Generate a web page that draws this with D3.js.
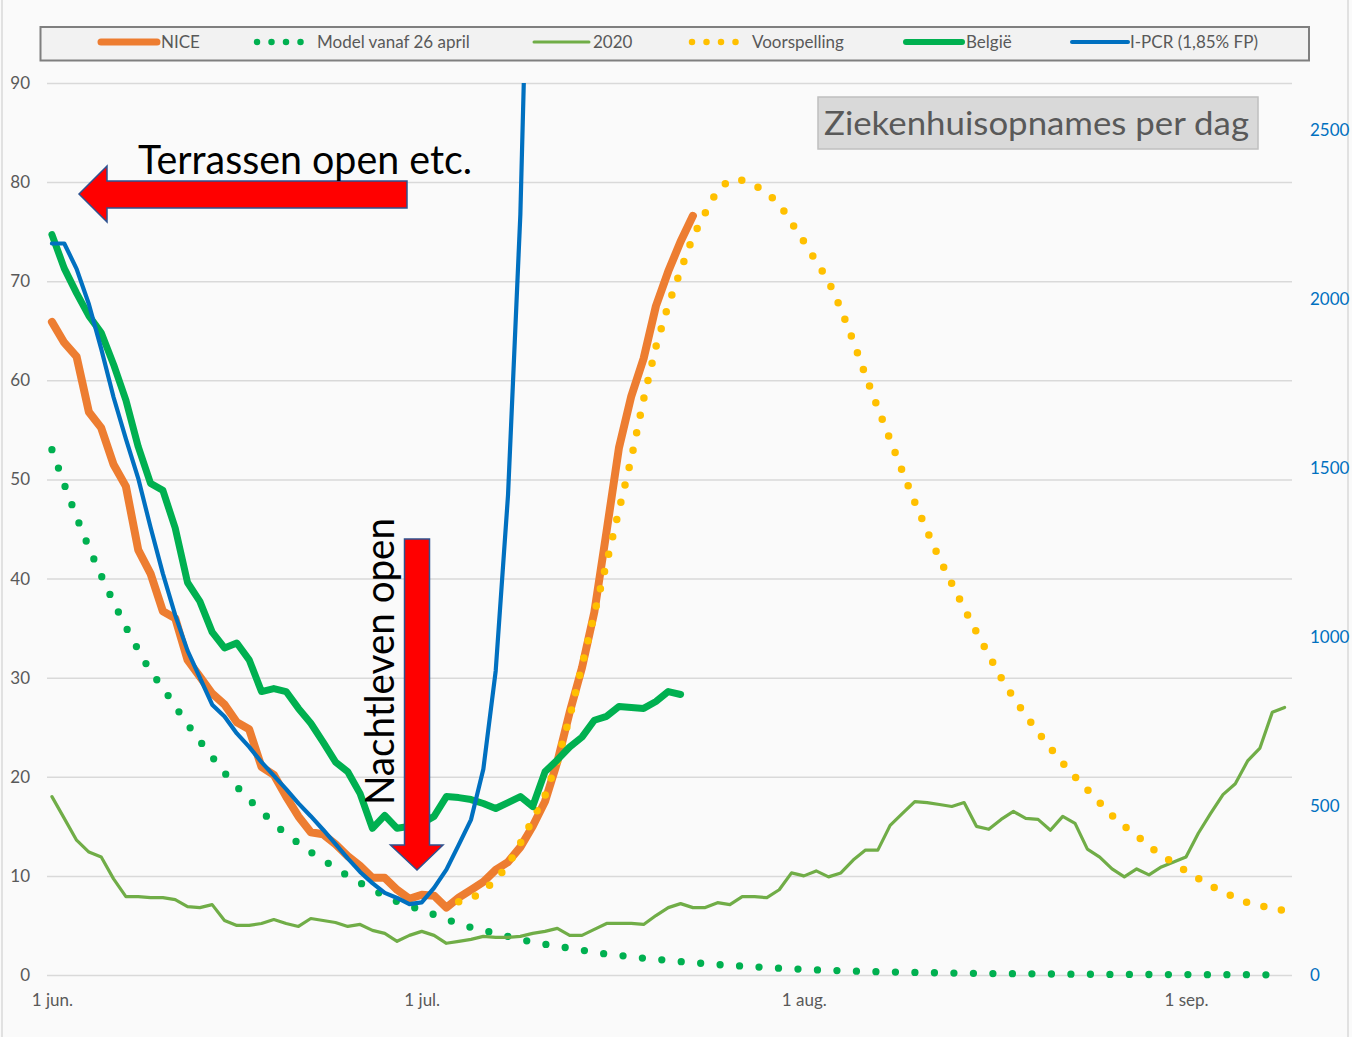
<!DOCTYPE html>
<html>
<head>
<meta charset="utf-8">
<script src="https://cdn.jsdelivr.net/npm/d3@7"></script>
<style>
  html, body { margin: 0; padding: 0; background: #fafafa; }
  svg { display: block; font-family: Lato, "Open Sans", sans-serif; }
</style>
</head>
<body>
<svg id="chart" width="1352" height="1037"></svg>
<script>
// ---- data (one value per day, day 0 = 1 jun.) ----
const startDate = new Date(2021, 5, 1)
const tickDays = [0, 30, 61, 92]
const tickLabels = ["1 jun.", "1 jul.", "1 aug.", "1 sep."]
const leftTicks = [0, 10, 20, 30, 40, 50, 60, 70, 80, 90]
const rightTicks = [0, 500, 1000, 1500, 2000, 2500]

const nice = [65.9, 63.8, 62.4, 56.8, 55.2, 51.5, 49.3, 42.9, 40.5, 36.7,
  36.0, 31.8, 30.1, 28.4, 27.3, 25.5, 24.8, 21.0, 20.2, 18.0,
  16.0, 14.4, 14.2, 13.2, 12.0, 11.0, 9.8, 9.8, 8.6, 7.7,
  8.1, 8.0, 6.8, 7.8, 8.6, 9.4, 10.6, 11.4, 12.9, 15.0,
  17.5, 21.5, 26.5, 31.0, 36.6, 44.8, 53.2, 58.4, 62.2, 67.5,
  71.0, 74.0, 76.6]

const model = [53.0, 49.5, 46.2, 43.1, 40.3, 37.6, 35.1, 32.8, 30.6, 29.0,
  27.1, 25.3, 23.6, 22.0, 20.4, 19.0, 17.7, 16.5, 15.3, 14.2,
  13.3, 12.4, 11.6, 10.8, 10.0, 9.3, 8.6, 8.0, 7.4, 7.0,
  6.5, 6.1, 5.6, 5.2, 4.8, 4.5, 4.2, 3.9, 3.6, 3.3,
  3.1, 2.9, 2.7, 2.5, 2.3, 2.1, 2.0, 1.8, 1.7, 1.6,
  1.45, 1.35, 1.25, 1.15, 1.05, 0.97, 0.9, 0.82, 0.75, 0.68,
  0.62, 0.57, 0.52, 0.47, 0.43, 0.4, 0.36, 0.33, 0.3, 0.28,
  0.26, 0.24, 0.22, 0.2, 0.18, 0.17, 0.15, 0.14, 0.13, 0.12,
  0.11, 0.1, 0.09, 0.08, 0.08, 0.07, 0.06, 0.06, 0.05, 0.05,
  0.05, 0.04, 0.04, 0.04, 0.03, 0.03, 0.03, 0.03, 0.02, 0.02, 0.02]

const y2020 = [18.0, 15.8, 13.6, 12.4, 11.9, 9.7, 7.9, 7.9, 7.8, 7.8,
  7.6, 6.9, 6.8, 7.1, 5.5, 5.0, 5.0, 5.2, 5.6, 5.2,
  4.9, 5.7, 5.5, 5.3, 4.9, 5.1, 4.5, 4.2, 3.4, 4.0,
  4.4, 4.0, 3.2, 3.4, 3.6, 3.9, 3.8, 3.8, 3.9, 4.2,
  4.4, 4.7, 4.0, 4.0, 4.6, 5.2, 5.2, 5.2, 5.1, 6.0,
  6.8, 7.2, 6.8, 6.8, 7.3, 7.1, 7.9, 7.9, 7.8, 8.6,
  10.3, 10.0, 10.5, 9.9, 10.3, 11.6, 12.6, 12.6, 15.1, 16.3,
  17.5, 17.4, 17.2, 17.0, 17.4, 15.0, 14.7, 15.7, 16.5, 15.8,
  15.7, 14.6, 16.0, 15.3, 12.7, 11.9, 10.7, 9.9, 10.7, 10.1,
  10.9, 11.4, 11.9, 14.3, 16.3, 18.2, 19.3, 21.6, 22.9, 26.5, 27.0]

const voorspellingStart = 33
const voorspelling = [7.4, 7.7, 8.5, 9.6, 11.1, 13.3, 15.7,
  18.1, 21.6, 26.0, 31.2, 36.4, 41.6, 46.9, 52.1, 58.1, 63.4,
  67.6, 71.1, 74.5, 76.9, 79.2, 80.2, 80.2, 79.7, 78.9, 77.8,
  75.9, 74.0, 72.0, 70.0, 67.2, 64.0, 60.5, 57.2, 54.0, 50.8,
  47.7, 44.8, 42.0, 39.5, 37.0, 34.6, 32.3, 30.0, 28.0, 26.2,
  24.5, 22.9, 21.4, 20.0, 18.7, 17.4, 16.1, 15.0, 14.1, 13.0,
  12.1, 11.3, 10.5, 9.75, 9.0, 8.4, 7.8, 7.3, 7.0, 6.75, 6.5]

const belgie = [74.7, 71.3, 68.8, 66.5, 64.8, 61.6, 58.0, 53.3, 49.6, 48.9,
  45.1, 39.6, 37.7, 34.6, 33.0, 33.5, 31.8, 28.6, 28.9, 28.6,
  26.9, 25.4, 23.5, 21.5, 20.5, 18.3, 14.8, 16.1, 14.8, 15.0,
  15.3, 16.0, 18.0, 17.9, 17.7, 17.3, 16.8, 17.4, 18.0, 17.0,
  20.5, 21.7, 23.0, 24.0, 25.7, 26.1, 27.1, 27.0, 26.9, 27.6,
  28.6, 28.3]

// I-PCR is on the right axis
const ipcr = [2165, 2165, 2090, 1985, 1853, 1710, 1587, 1470, 1325, 1188,
  1065, 960, 880, 800, 765, 715, 675, 630, 590, 550,
  508, 470, 430, 388, 345, 305, 272, 243, 228, 210,
  215, 258, 312, 385, 460, 610, 900, 1420, 2250, 3650]

// ---- layout ----
const svg = d3.select("#chart")
const plot = {left: 47, right: 1292, top: 83, bottom: 975}

const dayToDate = d => new Date(startDate.getTime() + d * 864e5)
const toPoints = (values, offset = 0) => values.map((v, i) => ({date: dayToDate(offset + i), v}))

const x = d3.scaleTime()
  .domain([dayToDate(-0.4), dayToDate(100.6)])
  .range([plot.left, plot.right])
const yL = d3.scaleLinear().domain([0, 90]).range([plot.bottom, plot.top])
const yR = d3.scaleLinear().domain([0, 2640]).range([plot.bottom, plot.top])

// outer border
svg.append("rect")
  .attr("x", 2).attr("y", -4).attr("width", 1346).attr("height", 1050)
  .attr("fill", "#fafafa").attr("stroke", "#d9d9d9").attr("stroke-width", 1.5)

// left axis + gridlines
const leftAxis = svg.append("g")
  .attr("transform", `translate(${plot.left},0)`)
  .call(d3.axisLeft(yL).tickValues(leftTicks).tickSize(-(plot.right - plot.left)).tickPadding(17))
leftAxis.select(".domain").remove()
leftAxis.selectAll(".tick line").attr("stroke", "#d9d9d9").attr("stroke-width", 1.5)
leftAxis.selectAll(".tick text").attr("fill", "#595959").style("font-size", "17px").style("font-family", "Lato")

// right axis
const rightAxis = svg.append("g")
  .attr("transform", `translate(${plot.right},0)`)
  .call(d3.axisRight(yR).tickValues(rightTicks).tickSize(0).tickPadding(18).tickFormat(d3.format("d")))
rightAxis.select(".domain").remove()
rightAxis.selectAll(".tick text").attr("fill", "#0070c0").style("font-size", "17px").style("font-family", "Lato")

// bottom axis
const bottomAxis = svg.append("g")
  .attr("transform", `translate(0,${plot.bottom})`)
  .call(d3.axisBottom(x).tickValues(tickDays.map(dayToDate)).tickSize(0).tickPadding(19)
    .tickFormat((d, i) => tickLabels[i]))
bottomAxis.select(".domain").remove()
bottomAxis.selectAll(".tick text").attr("fill", "#595959").style("font-size", "17px").style("font-family", "Lato")

// clip for the series that leave the plot
svg.append("clipPath").attr("id", "plotClip")
  .append("rect").attr("x", 0).attr("y", plot.top).attr("width", 1352).attr("height", 1037 - plot.top)

const lineL = d3.line().x(d => x(d.date)).y(d => yL(d.v))
const lineR = d3.line().x(d => x(d.date)).y(d => yR(d.v))

const series = svg.append("g").attr("fill", "none")
  .attr("stroke-linejoin", "round").attr("stroke-linecap", "round")

// NICE
series.append("path").datum(toPoints(nice))
  .attr("d", lineL).attr("stroke", "#ed7d31").attr("stroke-width", 8)
// Model vanaf 26 april
series.append("path").datum(toPoints(model))
  .attr("d", lineL).attr("stroke", "#00b050").attr("stroke-width", 7.3)
  .attr("stroke-dasharray", "0 19.5")
// 2020
series.append("path").datum(toPoints(y2020))
  .attr("d", lineL).attr("stroke", "#70ad47").attr("stroke-width", 3.2)
// Voorspelling
series.append("path").datum(toPoints(voorspelling, voorspellingStart))
  .attr("d", lineL).attr("stroke", "#ffc000").attr("stroke-width", 7.5)
  .attr("stroke-dasharray", "0 17.8")
// België
series.append("path").datum(toPoints(belgie))
  .attr("d", lineL).attr("stroke", "#00b050").attr("stroke-width", 7)
// I-PCR
series.append("path").datum(toPoints(ipcr))
  .attr("clip-path", "url(#plotClip)")
  .attr("d", lineR).attr("stroke", "#0070c0").attr("stroke-width", 4.2)

// ---- legend ----
const legend = svg.append("g")
legend.append("rect")
  .attr("x", 40.5).attr("y", 27).attr("width", 1268.5).attr("height", 33.5)
  .attr("fill", "#f2f2f2").attr("stroke", "#7f7f7f").attr("stroke-width", 2)

const legendItems = [
  {name: "NICE", color: "#ed7d31", width: 7, dash: null, x1: 101, x2: 157, tx: 161},
  {name: "Model vanaf 26 april", color: "#00b050", width: 6.5, dash: "0 14.5", x1: 257, x2: 301, tx: 317},
  {name: "2020", color: "#70ad47", width: 3, dash: null, x1: 534, x2: 589, tx: 593},
  {name: "Voorspelling", color: "#ffc000", width: 6.5, dash: "0 14.5", x1: 692, x2: 736, tx: 752},
  {name: "België", color: "#00b050", width: 6, dash: null, x1: 906, x2: 962, tx: 966},
  {name: "I-PCR (1,85% FP)", color: "#0070c0", width: 4, dash: null, x1: 1072, x2: 1128, tx: 1130}
]
const li = legend.selectAll(".item").data(legendItems).join("g").attr("class", "item")
li.append("line")
  .attr("x1", d => d.x1).attr("x2", d => d.x2).attr("y1", 42).attr("y2", 42)
  .attr("stroke", d => d.color).attr("stroke-width", d => d.width)
  .attr("stroke-linecap", "round")
  .attr("stroke-dasharray", d => d.dash)
li.append("text")
  .attr("x", d => d.tx).attr("y", 48)
  .attr("fill", "#595959").style("font-size", "17px")
  .text(d => d.name)

// ---- title box ----
svg.append("rect")
  .attr("x", 818).attr("y", 97).attr("width", 440).attr("height", 52)
  .attr("fill", "#d9d9d9").attr("stroke", "#bfbfbf").attr("stroke-width", 1.5)
svg.append("text")
  .attr("x", 824).attr("y", 135)
  .attr("fill", "#595959").style("font-size", "33px")
  .attr("textLength", 425).attr("lengthAdjust", "spacingAndGlyphs")
  .text("Ziekenhuisopnames per dag")

// ---- annotations ----
const arrowStyle = sel => sel.attr("fill", "#ff0000").attr("stroke", "#2f528f").attr("stroke-width", 1.5)

// left arrow "Terrassen open etc."
svg.append("path")
  .attr("d", "M79,194 L107,166 L107,181 L407,181 L407,208 L107,208 L107,222 Z")
  .call(arrowStyle)
svg.append("text")
  .attr("x", 138).attr("y", 174)
  .attr("fill", "#000").style("font-size", "40px")
  .attr("textLength", 334).attr("lengthAdjust", "spacingAndGlyphs")
  .text("Terrassen open etc.")

// down arrow "Nachtleven open"
svg.append("path")
  .attr("d", "M404.5,539 L429.5,539 L429.5,845 L443,845 L417,870 L390.5,845 L404.5,845 Z")
  .call(arrowStyle)
svg.append("text")
  .attr("transform", "translate(394,805) rotate(-90)")
  .attr("fill", "#000").style("font-size", "40px")
  .attr("textLength", 287).attr("lengthAdjust", "spacingAndGlyphs")
  .text("Nachtleven open")
</script>
</body>
</html>
